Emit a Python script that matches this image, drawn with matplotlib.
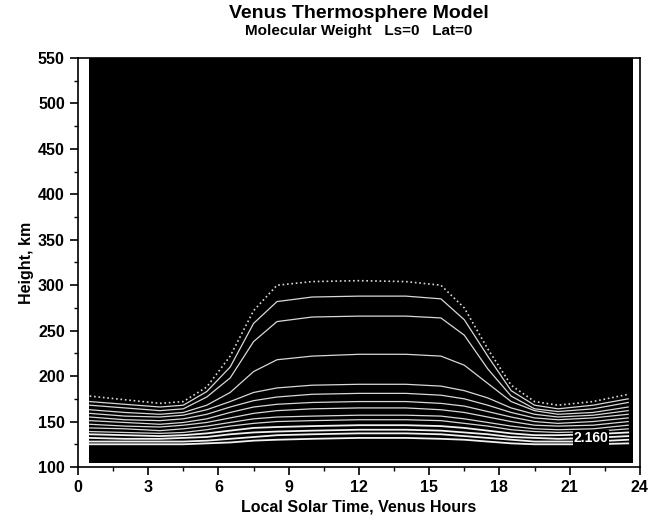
import matplotlib
matplotlib.use("Agg")
import matplotlib.pyplot as plt
import numpy as np

plt.rcParams['font.family'] = ['Liberation Sans Narrow', 'Liberation Sans', 'DejaVu Sans']

# ---- data ----
title = "Venus Thermosphere Model"
subtitle = "Molecular Weight   Ls=0   Lat=0"
x_ticks = [0, 3, 6, 9, 12, 15, 18, 21, 24]
y_ticks = [100, 150, 200, 250, 300, 350, 400, 450, 500, 550]

field_lst_extent = [0.45, 23.7]        # local solar time covered by the model field
field_height_extent = [104, 550]       # heights covered by the model field

lst = [0.5, 2, 3.5, 4.5, 5.5, 6.5, 7.5, 8.5, 10, 12, 14, 15.5, 16.5, 17.5, 18.5, 19.5, 20.5, 22, 23.5]

c00 = [178, 174, 170, 172, 188, 222, 272, 300, 304, 305, 304, 300, 275, 230, 190, 172, 168, 172, 180]
c01 = [172, 169, 166, 168, 183, 210, 258, 282, 287, 288, 288, 285, 262, 222, 184, 168, 164, 168, 175]
c02 = [168, 165, 162, 164, 177, 198, 238, 260, 265, 266, 266, 264, 245, 208, 178, 164, 161, 164, 171]
c03 = [163, 160, 158, 160, 168, 182, 205, 218, 222, 224, 224, 222, 212, 192, 172, 162, 158, 160, 166]
c04 = [159, 156, 155, 157, 163, 172, 182, 187, 190, 191, 191, 189, 184, 176, 165, 158, 155, 157, 162]
c05 = [155, 152, 151, 153, 158, 166, 173, 177, 180, 181, 181, 179, 175, 168, 160, 154, 152, 154, 158]
c06 = [151, 149, 147, 149, 153, 160, 166, 169, 171, 172, 172, 170, 167, 161, 155, 150, 148, 150, 154]
c07 = [147, 145, 144, 146, 149, 154, 159, 162, 164, 165, 165, 163, 160, 155, 150, 146, 145, 146, 150]
c08 = [143, 142, 140, 142, 145, 149, 153, 155, 156, 157, 157, 156, 153, 149, 145, 142, 141, 142, 146]
c09 = [139, 138, 137, 138, 141, 145, 148, 150, 151, 152, 152, 151, 148, 145, 141, 139, 138, 139, 142]
c10 = [136, 135, 134, 135, 137, 140, 143, 144, 145, 146, 146, 145, 143, 140, 137, 135, 135, 136, 138]
c11 = [132, 131, 131, 132, 133, 136, 138, 139, 140, 141, 141, 140, 138, 136, 133, 132, 131, 132, 134]
c12 = [128, 128, 128, 128, 129, 131, 133, 135, 136, 137, 137, 136, 134, 132, 130, 128, 128, 128, 130]
c13 = [125, 125, 125, 125, 126, 127, 129, 130, 131, 132, 132, 131, 130, 128, 126, 125, 125, 125, 126]
contours = [c00, c01, c02, c03, c04, c05, c06, c07, c08, c09, c10, c11, c12, c13]
contour_styles = [':', '-', '-', '-', '-', '-', '-', '-', '-', '-', '-', '-', '-', '-']

label_text = "2.160"
label_pos = (21.9, 132)

# ---- figure ----
fig = plt.figure(figsize=(6.57, 5.29), dpi=100)
ax = fig.add_axes([0.1187, 0.1172, 0.8553, 0.7732])
ax.set_xlim(0, 24)
ax.set_ylim(100, 550)

ax.fill_between(field_lst_extent, field_height_extent[0], field_height_extent[1],
                color='black', lw=0, zorder=1)

for i, (c, ls) in enumerate(zip(contours, contour_styles)):
    col = '#d8d8d8' if i < 10 else '#f2f2f2'
    lw = 0.9 if i < 10 else 1.3
    if ls != '-':
        lw = 1.2
    ax.plot(lst, c, color=col, lw=lw, ls=ls, zorder=2)

ax.text(label_pos[0], label_pos[1], label_text, color='white', fontsize=10,
        fontweight='bold', ha='center', va='center', zorder=3,
        bbox=dict(facecolor='black', edgecolor='none', pad=0.5))

ax.set_xticks(x_ticks)
ax.set_yticks(y_ticks)
ax.set_xticks(np.arange(0, 24.01, 1.5), minor=True)
ax.set_yticks(np.arange(100, 550.01, 25), minor=True)
ax.tick_params(axis='both', which='major', direction='out', length=6, width=1.2,
               labelsize=11.5, top=False, right=False)
ax.tick_params(axis='both', which='minor', direction='out', length=3, width=1,
               top=False, right=False)
for lab in ax.get_xticklabels() + ax.get_yticklabels():
    lab.set_fontweight('bold')
for s in ax.spines.values():
    s.set_linewidth(1.2)

ax.set_xlabel("Local Solar Time, Venus Hours", fontsize=11.5, fontweight='bold', labelpad=3)
ax.set_ylabel("Height, km", fontsize=11.5, fontweight='bold', labelpad=3)

fig.text(0.5 * (0.1187 + 0.974), 1 - 14 / 529, title, ha='center', va='center',
         fontsize=14, fontweight='bold', family=['Liberation Sans', 'DejaVu Sans'])
fig.text(0.5 * (0.1187 + 0.974), 1 - 31 / 529, subtitle, ha='center', va='center',
         fontsize=11, fontweight='bold', family=['Liberation Sans', 'DejaVu Sans'])

fig.savefig("out.png", dpi=100)
